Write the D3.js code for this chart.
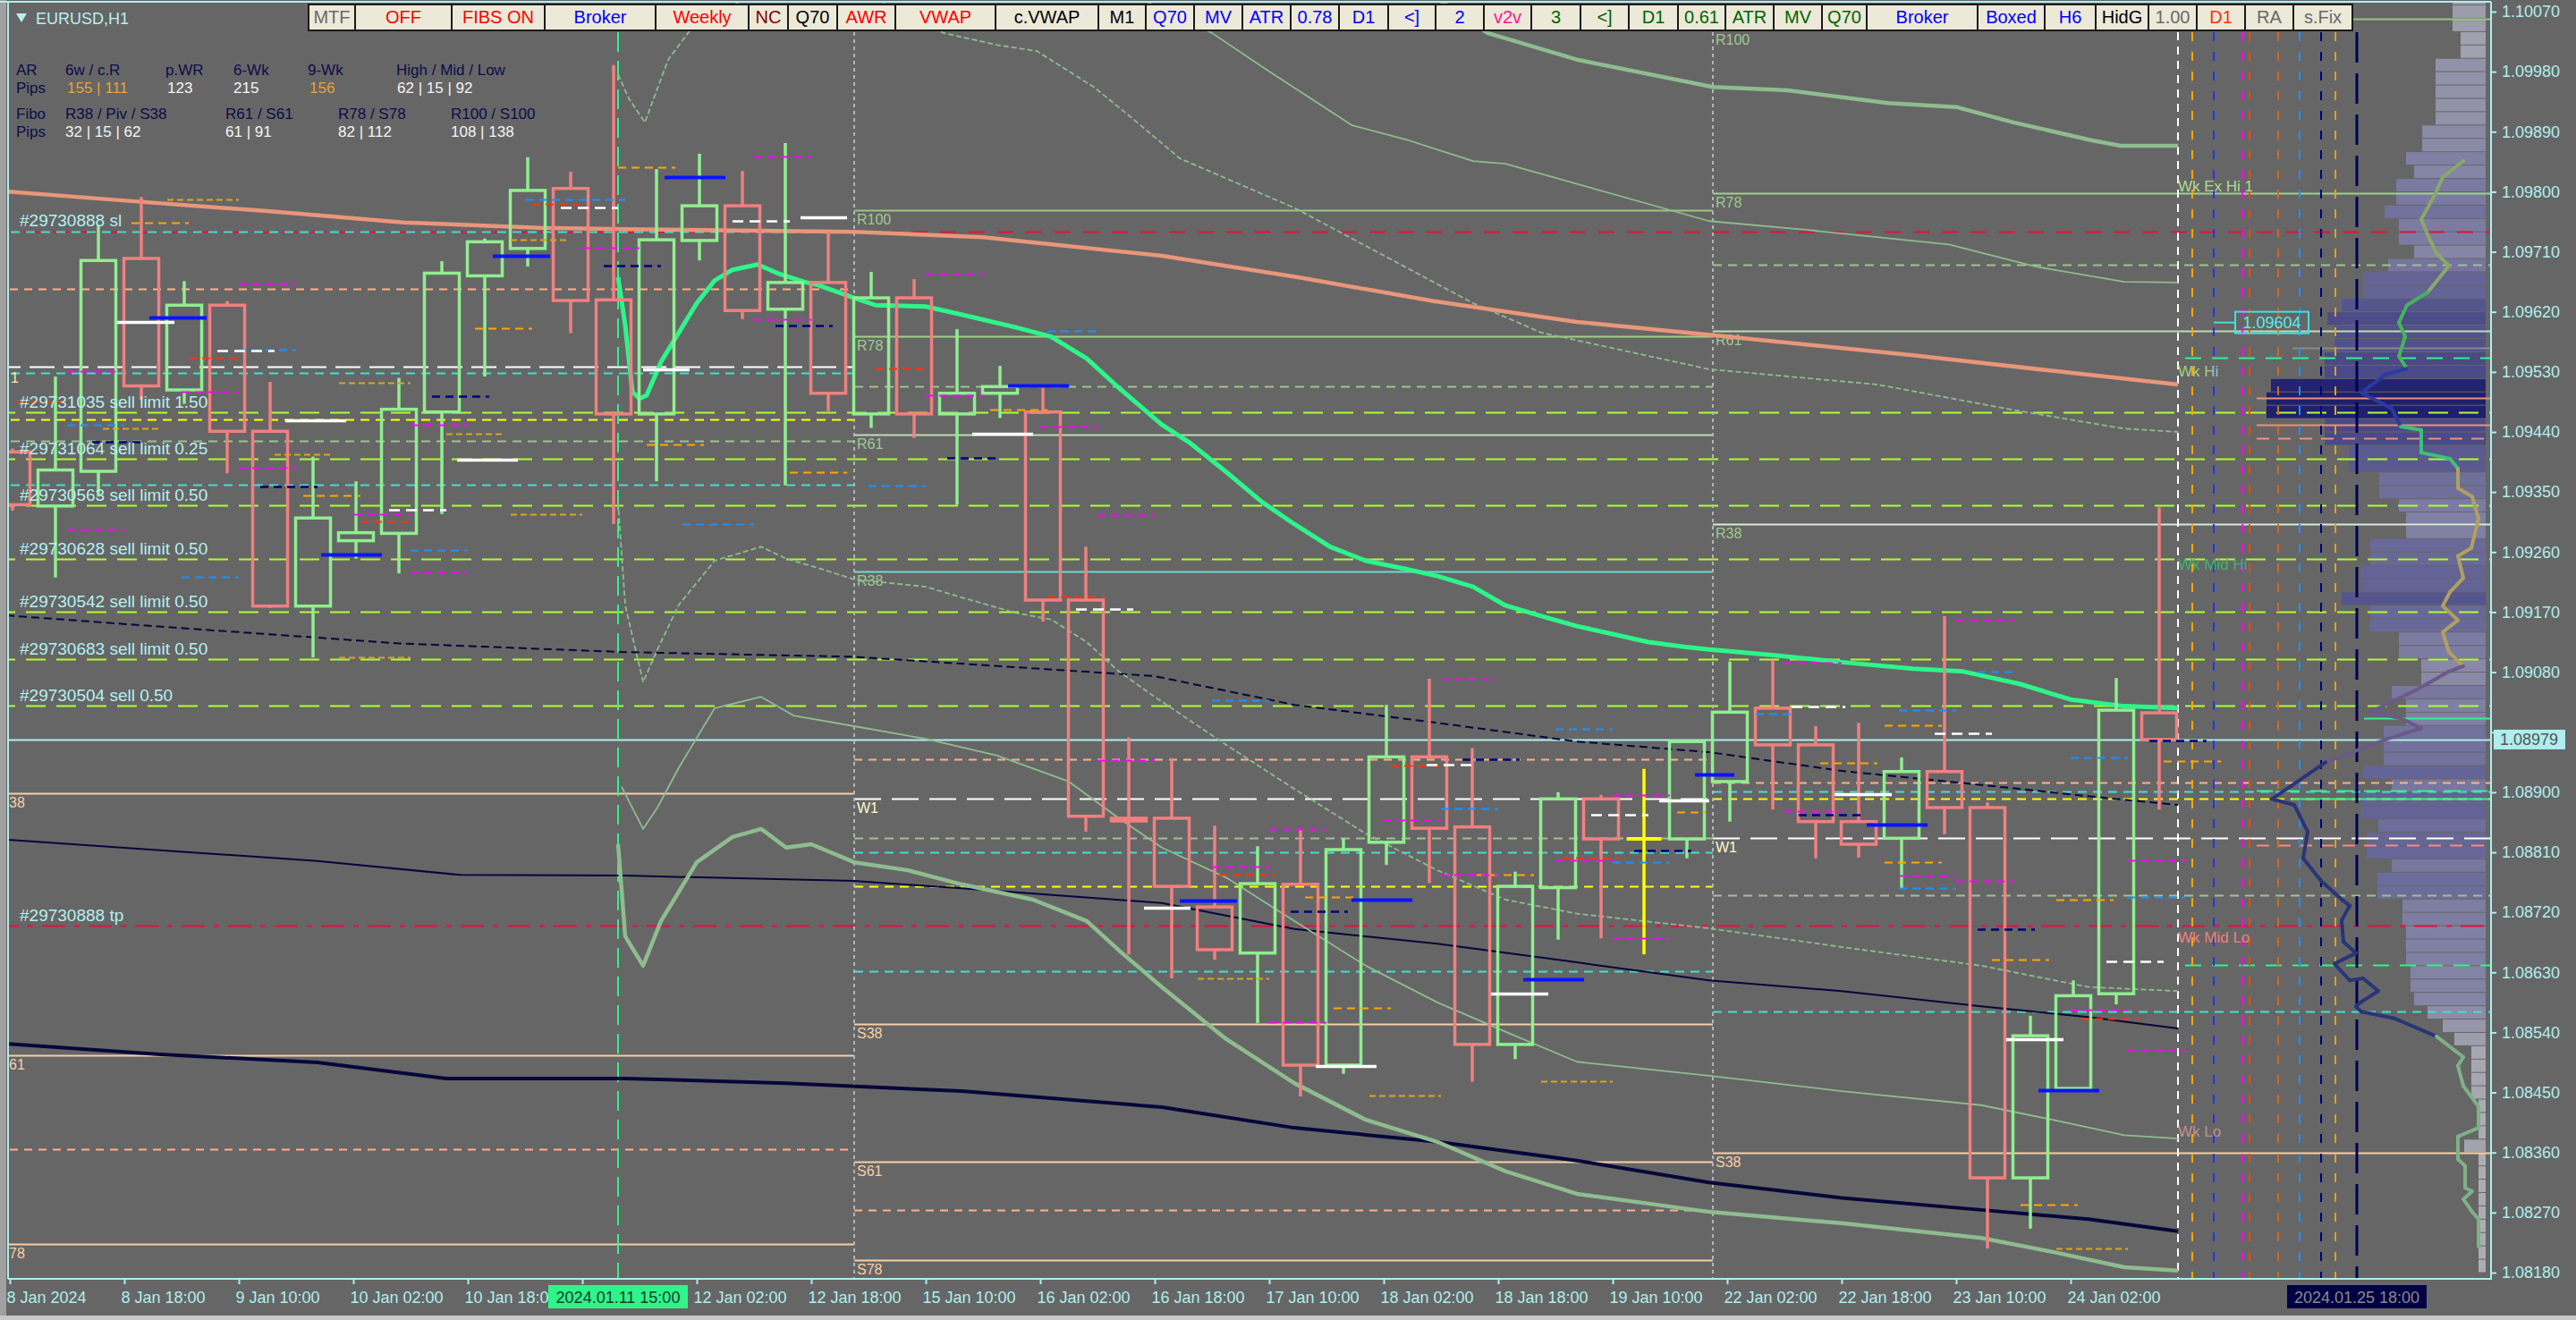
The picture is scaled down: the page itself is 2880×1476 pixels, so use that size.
<!DOCTYPE html>
<html><head><meta charset="utf-8">
<script src="https://cdn.jsdelivr.net/npm/d3@7/dist/d3.min.js"></script>
<style>html,body{margin:0;padding:0;background:#666;overflow:hidden}svg{display:block}text{font-family:"Liberation Sans",Arial,sans-serif}</style>
</head><body><svg id="c" width="2880" height="1476"></svg>
<script>
// ---------------- DATA ----------------
// H6 candles, index i starts at trading hour 6*i (hour 0 = 8 Jan 2024 00:00, weekends skipped)
const candleOpen  = [1.09410,1.09329,1.09381,1.09700,1.09503,1.09630,1.09441,1.09179,1.09277,1.09288,1.09470,1.09674,1.09715,1.09805,1.09638,1.09467,1.09727,1.09779,1.09624,1.09664,1.09467,1.09641,1.09467,1.09498,1.09470,1.09188,1.08861,1.08861,1.08728,1.08659,1.08762,1.08491,1.08825,1.08953,1.08848,1.08522,1.08757,1.08890,1.08830,1.08830,1.08916,1.09026,1.08971,1.08856,1.08831,1.08931,1.08877,1.08322,1.08456,1.08598,1.09019];
const candleHigh  = [1.09415,1.09523,1.09750,1.09792,1.09666,1.09636,1.09515,1.09403,1.09366,1.09521,1.09696,1.09730,1.09852,1.09830,1.09990,1.09834,1.09857,1.09831,1.09873,1.09740,1.09680,1.09669,1.09594,1.09539,1.09511,1.09268,1.08982,1.08951,1.08850,1.08819,1.08845,1.08831,1.09031,1.09070,1.08966,1.08781,1.08900,1.08896,1.08935,1.08978,1.09096,1.09098,1.08999,1.09004,1.08952,1.09164,1.08885,1.08565,1.08618,1.09071,1.09327];
const candleLow   = [1.09322,1.09222,1.09343,1.09488,1.09482,1.09378,1.09176,1.09102,1.09250,1.09228,1.09317,1.09523,1.09688,1.09588,1.09302,1.09366,1.09697,1.09609,1.09360,1.09471,1.09446,1.09431,1.09331,1.09461,1.09156,1.08841,1.08657,1.08621,1.08649,1.08554,1.08444,1.08478,1.08791,1.08764,1.08466,1.08500,1.08679,1.08681,1.08657,1.08801,1.08856,1.08874,1.08801,1.08802,1.08756,1.08837,1.08216,1.08246,1.08452,1.08582,1.08874];
const candleClose = [1.09331,1.09383,1.09697,1.09509,1.09630,1.09441,1.09179,1.09311,1.09289,1.09474,1.09678,1.09725,1.09802,1.09637,1.09467,1.09728,1.09779,1.09622,1.09664,1.09498,1.09641,1.09467,1.09498,1.09508,1.09188,1.08864,1.08857,1.08759,1.08664,1.08763,1.08491,1.08814,1.08953,1.08846,1.08522,1.08759,1.08890,1.08830,1.08830,1.08976,1.09020,1.08971,1.08856,1.08822,1.08931,1.08877,1.08322,1.08535,1.08595,1.09023,1.08979];

const priceTicks = [1.10070,1.09980,1.09890,1.09800,1.09710,1.09620,1.09530,1.09440,1.09350,1.09260,1.09170,1.09080,1.08990,1.08900,1.08810,1.08720,1.08630,1.08540,1.08450,1.08360,1.08270,1.08180];
const timeTicks = [2,18,34,50,66,82,98,114,130,146,162,178,194,210,226,242,258,274,290];
const timeLabels = ["8 Jan 2024","8 Jan 18:00","9 Jan 10:00","10 Jan 02:00","10 Jan 18:00","11 Jan 10:00","12 Jan 02:00","12 Jan 18:00","15 Jan 10:00","16 Jan 02:00","16 Jan 18:00","17 Jan 10:00","18 Jan 02:00","18 Jan 18:00","19 Jan 10:00","22 Jan 02:00","22 Jan 18:00","23 Jan 10:00","24 Jan 02:00"];
const END = 348.75;
const bidPrice = 1.08979;
const anchorTime = 87, anchorLabel = "2024.01.11 15:00";
const cursorTime = 330, cursorLabel = "2024.01.25 18:00";
const weekStarts = [120, 240];

// indicator lines: [trading hour, price]
const salmonMA = [[1,1.09801],[19,1.09786],[38,1.09771],[57,1.09754],[76,1.09746],[88,1.09744],[120,1.09740],[138,1.09732],[163,1.09704],[182,1.09672],[201,1.09636],[221,1.09605],[239,1.09586],[268,1.09555],[288,1.09531],[305,1.09511]];
const anchoredVWAP = [[87,1.09672],[88,1.09600],[89,1.09500],[90,1.09490],[91,1.09495],[93,1.09545],[95.5,1.09589],[98,1.09633],[100.5,1.09667],[103,1.09683],[106.5,1.09691],[109.5,1.09677],[113,1.09665],[115,1.09660],[120,1.09641],[123,1.09630],[130,1.09628],[135,1.09616],[142.5,1.09597],[147.5,1.09583],[152.5,1.09550],[157,1.09506],[163,1.09451],[167,1.09423],[172,1.09380],[177,1.09335],[181.5,1.09302],[186.5,1.09268],[191.5,1.09247],[196.5,1.09236],[201.5,1.09224],[206.5,1.09208],[211,1.09180],[216,1.09164],[221,1.09149],[226,1.09137],[231,1.09125],[236,1.09118],[239.5,1.09114],[248,1.09106],[258,1.09095],[268,1.09085],[275,1.09081],[283,1.09062],[290,1.09039],[297.5,1.09029],[305,1.09026]];
const bandU1 = [[87,1.09976],[88.5,1.09940],[90.75,1.09904],[94,1.09998],[97,1.10041],[113,1.10141],[132.5,1.10038],[140,1.10020],[145.5,1.10011],[153.5,1.09957],[159,1.09909],[165.5,1.09850],[181.5,1.09776],[206.5,1.09633],[216,1.09589],[239.5,1.09534],[263,1.09511],[282.5,1.09472],[297.5,1.09445],[305,1.09440]];
const bandU2 = [[150,1.10141],[170,1.10038],[177.5,1.09984],[189.5,1.09900],[197.5,1.09877],[206.5,1.09846],[211,1.09842],[239.5,1.09756],[253,1.09743],[273,1.09721],[285,1.09688],[297.5,1.09665],[305,1.09664]];
const bandU3 = [[200,1.10101],[208.5,1.10038],[221,1.09998],[240,1.09957],[250.5,1.09952],[264.5,1.09933],[274,1.09927],[282,1.09904],[293,1.09877],[297,1.09869],[305,1.09869]];
const bandL1 = [[87,1.09335],[88,1.09180],[90.5,1.09065],[92.5,1.09114],[95.5,1.09181],[100.5,1.09247],[107,1.09268],[110.5,1.09250],[115,1.09236],[120,1.09219],[130,1.09208],[135,1.09192],[142.5,1.09169],[147.5,1.09159],[152.5,1.09125],[157,1.09081],[162,1.09043],[172,1.08971],[181.5,1.08905],[191.5,1.08838],[201.5,1.08783],[211,1.08739],[221,1.08718],[239.5,1.08696],[258,1.08668],[277.5,1.08640],[292.5,1.08608],[305,1.08602]];
const bandL2 = [[87.5,1.08908],[90.5,1.08845],[92.5,1.08877],[95.5,1.08937],[100.5,1.09026],[107,1.09043],[111.5,1.09015],[120,1.08999],[130,1.08980],[140,1.08955],[150,1.08916],[157,1.08861],[163,1.08817],[172,1.08772],[181.5,1.08707],[191.5,1.08640],[201.5,1.08585],[211,1.08541],[221,1.08496],[239.5,1.08475],[258,1.08452],[277.5,1.08431],[287.5,1.08409],[297.5,1.08386],[305,1.08381]];
const bandL3 = [[87,1.08822],[88,1.08684],[90.5,1.08640],[93,1.08707],[98,1.08795],[103,1.08833],[107,1.08845],[110.5,1.08817],[114,1.08822],[120,1.08795],[127.5,1.08783],[135,1.08762],[145,1.08739],[152.5,1.08707],[157,1.08663],[163,1.08608],[172,1.08530],[181.5,1.08464],[191.5,1.08409],[201.5,1.08376],[211,1.08332],[221,1.08298],[239.5,1.08271],[258,1.08254],[277.5,1.08232],[287.5,1.08211],[297.5,1.08188],[305,1.08183]];
const navyDashed = [[1.5,1.09165],[26,1.09146],[56.5,1.09123],[88,1.09110],[120,1.09103],[162,1.09074],[181.5,1.09031],[201.5,1.09004],[221,1.08976],[239.5,1.08960],[258,1.08932],[277.5,1.08911],[292.5,1.08894],[305,1.08881]];
const navyThin = [[1.5,1.08829],[23,1.08813],[45,1.08797],[65,1.08776],[88,1.08775],[120,1.08767],[135,1.08756],[163,1.08734],[181.5,1.08695],[201.5,1.08673],[221,1.08645],[239.5,1.08618],[258,1.08602],[277.5,1.08579],[292.5,1.08563],[305,1.08546]];
const navyThick = [[1.5,1.08523],[23,1.08507],[45,1.08495],[63,1.08471],[88,1.08471],[110.5,1.08464],[135,1.08452],[163,1.08428],[181.5,1.08397],[201.5,1.08376],[221,1.08348],[239.5,1.08315],[258,1.08292],[277.5,1.08274],[292.5,1.08260],[305,1.08242]];

// pending orders
const orderPrices = [1.09470,1.09400,1.09330,1.09250,1.09170,1.09100,1.09030];
const orderLabels = ["#29731035 sell limit 1.50","#29731064 sell limit 0.25","#29730563 sell limit 0.50","#29730628 sell limit 0.50","#29730542 sell limit 0.50","#29730683 sell limit 0.50","#29730504 sell 0.50"];
const slPrice = 1.09740, slLabel = "#29730888 sl";
const tpPrice = 1.08700, tpLabel = "#29730888 tp";

// weekly fibo pivots per week section
const pivotNames = ["R100","R78","R61","R38","W1","S38","S61","S78"];
const pivotsWeek1 = [null,null,null,null,null,1.08899,1.08506,1.08223];
const pivotsWeek2 = [1.09772,1.09583,1.09436,1.09231,1.08890,1.08552,1.08346,1.08199];
const pivotsWeek3 = [1.10059,1.09798,1.09591,1.09302,1.08831,1.08359,null,null];
const sectionBounds = [[0,120],[120,240],[240,END]];

// other horizontal levels [from hour, to hour, price]
const levelsTurquoise = [[0,120,1.09740],[0,120,1.09528],[0,120,1.09361],[120,240,1.08810],[120,240,1.08632],[240,END,1.08901],[240,END,1.08571]];
const levelsPeach = [[0,120,1.09655],[0,120,1.08365],[120,240,1.08950],[120,240,1.08274],[240,END,1.08915]];
const levelsYellow = [[0,120,1.09459],[120,240,1.08759],[240,END,1.08890]];
const levelsSeaGreen = [[0,120,1.09427],[120,240,1.09508],[120,240,1.08832],[240,END,1.09691],[240,END,1.08745]];
const levelsWhite = [[0,120,1.09538]];
const levelsSpringDash = [[306,END,1.09551],[316,END,1.08902],[306,END,1.08641]];
const levelsSpringSolid = [[331,END,1.09011],[321,END,1.08890]];
const levelsSalmonSolid = [[316,END,1.09491],[316,END,1.09451]];
const levelsSalmonDash = [[316,END,1.09431],[316,END,1.08821]];
const levelsGray = [[321,END,1.09566]];
const markPrice = 1.09604;

// short level stubs [from hour, to hour, price]
const stubsWhiteThick = [[17,25,1.09605],[40.5,49,1.09457],[64.5,73,1.09398],[90.5,97,1.09534],[112.5,119,1.09762],[136.5,145,1.09437],[160.5,167,1.08727],[184.5,193,1.08490],[209,217,1.08598],[232.5,239.5,1.08888],[257,265,1.08897],[281,289,1.08530]];
const stubsWhite = [[31,39,1.09562],[55,63,1.09323],[79,87,1.09776],[103,111,1.09756],[151,159,1.09175],[200,207,1.08941],[223,231,1.08866],[251,258.5,1.09029],[271,279,1.08988],[295,303,1.08646]];
const stubsBlue = [[21.5,29.5,1.09611],[45.5,54,1.09256],[69.5,77.5,1.09704],[93.5,102,1.09822],[141.5,150,1.09510],[165.5,173.5,1.08738],[189.5,198,1.08739],[213.5,222,1.08620],[237.5,243,1.08927],[261.5,270,1.08852],[285.5,294,1.08453]];
const stubsMagenta = [[34,42,1.09663],[10,17.5,1.09531],[26,34,1.09500],[34,42,1.09386],[10,18,1.09294],[50,58,1.09317],[58,66,1.09229],[58,66,1.09451],[82,90,1.09716],[106,114,1.09853],[106,114,1.09609],[130,138,1.09677],[130,138,1.09495],[146,154,1.09448],[154,162,1.09315],[154,162,1.08948],[170,178,1.08789],[178,186,1.08845],[178,186,1.08555],[194,202,1.08858],[202,210,1.09070],[202,210,1.08776],[218,226,1.08798],[226,234,1.08896],[226,234,1.08681],[250,258,1.09094],[250,258,1.08872],[266,274,1.08775],[274,282,1.09159],[274,282,1.08767],[290,298,1.08574],[298,306,1.08798],[298,306,1.08514]];
const stubsDodger = [[34,42,1.09563],[10,18,1.09451],[26,34,1.09223],[58,66,1.09263],[74,88,1.09789],[96,106,1.09302],[122,130,1.09360],[147,154,1.09591],[170,178,1.09038],[202,210,1.08876],[218,226,1.08995],[226,234,1.08795],[246,251,1.09018],[266,274,1.09023],[266,274,1.08756],[277,282,1.09081],[290,298,1.08952],[298,306,1.08743]];
const stubsOrange = [[19,27,1.09754],[43,51,1.09345],[67,75,1.09596],[87,95,1.09837],[111,119,1.09380],[91,99,1.09421],[139,147,1.09473],[183,190.5,1.08743],[187,195,1.08577],[207,215,1.08776],[235,239,1.08870],[255,263,1.08944],[264,272,1.09001],[264,272,1.08795],[279,287,1.08649],[283,291,1.08282],[288,296,1.08739],[303,311,1.08947]];
const stubsGold = [[24,34,1.09789],[15,23,1.09445],[39,47,1.09407],[63,71,1.09437],[72,82,1.09317],[72,80,1.09728],[48,58,1.09514],[48,58,1.09102],[168,178,1.08621],[192,202,1.08446],[216,226,1.08467],[288,298,1.08216]];
const stubsNavy = [[13.5,21,1.09425],[37,45,1.09358],[61,69,1.09494],[85,93,1.09689],[109,117,1.09600],[133,140,1.09401],[181,189,1.08722],[205,213,1.08949],[229,237,1.08813],[252,261,1.08866],[277,285,1.08695],[301,309,1.08977]];
const stubsRed = [[27,34.5,1.09551],[3,10.5,1.09486],[51,58.5,1.09306],[75,82.5,1.09782],[123,130.5,1.09535],[147,155,1.09193],[171,179,1.08776],[195,202.5,1.08940],[219,227,1.08802],[291.5,299.5,1.08561]];

// vertical marker lines (trading hour)
const markerTimes = [305,307,310,314,315,319,322,325,327,330];

// volume profile: volume per 0.0002 bin from 1.08180 upward
const profileLow = 1.08180, profileStep = 0.0002;
const profileVolume = [8,8,8,8,8,8,8,8,8,24, 8,8,8,16,16,16,16,35,48,65, 80,84,84,89,89,89,93,93,121,121, 105,133,133,120,139,139,105,137,114,114, 114,89,89,105,72,72,97,97,129,129, 161,139,139,129,129,89,89,97,119,119, 153,153,180,180,245,245,240,180,180,169, 169,177,161,137,137,109,80,97,97,113, 100,100,80,89,71,71,56,56,56,56, 56,28,28,37,37,37];
// profile curve [price, volume]
const profileCurve = [[1.09846,25],[1.09822,48],[1.09795,57],[1.09759,72],[1.09730,63],[1.09708,55],[1.09689,41],[1.09649,65],[1.09630,88],[1.09604,97],[1.09583,90],[1.09553,97],[1.09535,88],[1.09526,112],[1.09499,139],[1.09475,105],[1.09448,95],[1.09443,72],[1.09409,72],[1.09400,40],[1.09385,31],[1.09356,31],[1.09343,15],[1.09310,8],[1.09266,16],[1.09254,31],[1.09221,25],[1.09200,40],[1.09179,48],[1.09158,31],[1.09140,48],[1.09110,41],[1.09089,25],[1.09081,41],[1.09053,78],[1.09020,129],[1.09011,95],[1.08996,72],[1.08979,112],[1.08945,179],[1.08908,219],[1.08890,239],[1.08881,214],[1.08841,199],[1.08801,204],[1.08767,184],[1.08737,159],[1.08730,152],[1.08708,161],[1.08676,159],[1.08659,145],[1.08643,169],[1.08618,152],[1.08621,137],[1.08602,120],[1.08585,140],[1.08579,145],[1.08571,139],[1.08561,102],[1.08534,55],[1.08503,25],[1.08490,31],[1.08460,25],[1.08429,8],[1.08397,8],[1.08384,31],[1.08350,31],[1.08340,23],[1.08307,23],[1.08302,15],[1.08290,25],[1.08271,15],[1.08260,8],[1.08219,8]];

// toolbar buttons
const buttonLabels = ["MTF","OFF","FIBS ON","Broker","Weekly","NC","Q70","AWR","VWAP","c.VWAP","M1","Q70","MV","ATR","0.78","D1","<]","2","v2v","3","<]","D1","0.61","ATR","MV","Q70","Broker","Boxed","H6","HidG","1.00","D1","RA","s.Fix"];

// ---------------- LAYOUT / STYLE ----------------
const buttonWidths = [52,108,104,124,104,44,55,65,112,115,53,54,54,54,54,55,53,54,53,55,54,55,53,54,54,50,124,75,57,59,54,54,54,66];
const buttonColors = ["#6a6a6a","#ff0000","#ff0000","#0000ff","#ff0000","#800000","#000000","#ff0000","#ff0000","#000000","#000000","#0000ff","#0000ff","#0000ff","#0000ff","#0000ff","#0000ff","#0000ff","#ff1493","#006400","#006400","#006400","#006400","#006400","#006400","#006400","#0000ff","#0000ff","#0000ff","#000000","#6a6a6a","#ff3300","#6a6a6a","#6a6a6a"];
const markerColors = ["#ffffff","#ffa500","#2233ff","#ff00ff","#ff4500","#d2691e","#1e90ff","#000080","#e0a020","#000050"];
const BG = "#666666", AXIS = "#aeeeee";
const PL = 9, PR = 2785, PT = 3, PB = 1430, TOOLBAR_BOTTOM = 35;

const x = d3.scaleLinear().domain([0, END]).range([-5, PR]);
const y = d3.scaleLinear().domain([1.08180, 1.10070]).range([1423, 13]);
const vx = d3.scaleLinear().domain([0, 250]).range([2779, 2529]);

const svg = d3.select("#c");
svg.append("rect").attr("width",2880).attr("height",1476).attr("fill",BG);
svg.append("rect").attr("x",0).attr("y",0).attr("width",7).attr("height",1476).attr("fill","#a0a0a0");
svg.append("rect").attr("x",0).attr("y",1471).attr("width",2880).attr("height",5).attr("fill","#c8c8c8");
svg.append("defs").append("clipPath").attr("id","plot").append("rect")
  .attr("x",PL).attr("y",PT).attr("width",PR-PL).attr("height",PB-PT);
const g = svg.append("g").attr("clip-path","url(#plot)");

// volume profile
const profColor = d3.scaleLinear().domain([0,100,180,250]).range(["#b0b0b4","#7a7aa2","#4a4a88","#1c1c6c"]);
g.append("g").selectAll("rect").data(profileVolume).join("rect")
  .attr("x", d => vx(d)).attr("width", d => vx(0) - vx(d))
  .attr("y", (d,i) => y(profileLow + profileStep*(i+1)) + 0.5)
  .attr("height", (d,i) => y(profileLow + profileStep*i) - y(profileLow + profileStep*(i+1)) - 1)
  .attr("fill", d => profColor(d));

function segs(arr, color, w, dash) {
  g.append("g").selectAll("line").data(arr).join("line")
    .attr("x1", d => x(d[0])).attr("x2", d => x(d[1]))
    .attr("y1", d => Math.round(y(d[2]))+0.5).attr("y2", d => Math.round(y(d[2]))+0.5)
    .attr("stroke", color).attr("stroke-width", w).attr("stroke-dasharray", dash || null);
}
// full width order lines
segs(orderPrices.map(p => [0, END, p]), "#adff2f", 2, "22,12");
segs([[0, END, slPrice]], "#dc143c", 2, "18,14");
segs([[0, END, tpPrice]], "#dc143c", 2, "26,10,6,10");
segs(levelsTurquoise, "#40e0d0", 2, "10,7");
segs(levelsPeach, "#ffb08a", 2, "9,7");
segs(levelsYellow, "#ffff00", 2, "10,7");
segs(levelsSeaGreen, "#9cc48c", 2, "10,7");
segs(levelsWhite, "#ffffff", 2, "28,10");
segs(levelsSpringDash, "#2ef58a", 2, "18,12");
segs(levelsSpringSolid, "#2ef58a", 2);
segs(levelsSalmonSolid, "#f0907a", 2);
segs(levelsSalmonDash, "#f0907a", 2, "14,10");
segs(levelsGray, "#8a8a8a", 2);

// weekly pivots
const pivotColor = {R100:"#98c878",R78:"#a0d088",R61:"#c0dcb0",R38:"#70d8d0",W1:"#ffffff",S38:"#f6cfa6",S61:"#f6cfa6",S78:"#f6cfa6"};
const pivotLabelColor = {R100:"#a0c890",R78:"#a0c890",R61:"#a0c890",R38:"#a0c890",W1:"#fff8d0",S38:"#f6cfa6",S61:"#f6cfa6",S78:"#f6cfa6"};
[pivotsWeek1,pivotsWeek2,pivotsWeek3].forEach((arr, si) => {
  const [t0, t1] = sectionBounds[si];
  arr.forEach((p, k) => {
    if (p === null) return;
    const nm = pivotNames[k];
    const yy = Math.round(y(p)) + 0.5;
    const c = (si === 2 && nm === "R38") ? "#d6ead6" : pivotColor[nm];
    g.append("line").attr("x1", x(t0)).attr("x2", x(t1)).attr("y1", yy).attr("y2", yy)
      .attr("stroke", c).attr("stroke-width", 2).attr("stroke-dasharray", nm === "W1" ? "30,12" : null);
    // the first week's labels start left of the plot; only their digits are visible
    const lab = si === 0 ? nm.slice(1) : nm;
    const lx = si === 0 ? PL + 1 : x(t0) + 3;
    const ly = Math.max(yy + 15, TOOLBAR_BOTTOM + 15);
    g.append("text").attr("x", lx).attr("y", ly).text(lab)
      .attr("fill", pivotLabelColor[nm]).attr("font-size", 16);
  });
});

// bid line
g.append("line").attr("x1",PL).attr("x2",PR).attr("y1",Math.round(y(bidPrice))+0.5).attr("y2",Math.round(y(bidPrice))+0.5)
  .attr("stroke",AXIS).attr("stroke-width",2);

// vertical lines
g.append("line").attr("x1",x(anchorTime)).attr("x2",x(anchorTime)).attr("y1",36).attr("y2",PB)
  .attr("stroke","#2ef58a").attr("stroke-width",2).attr("stroke-dasharray","22,10");
g.append("g").selectAll("line").data(weekStarts).join("line")
  .attr("x1",d=>x(d)).attr("x2",d=>x(d)).attr("y1",36).attr("y2",PB)
  .attr("stroke","#b4b4b4").attr("stroke-width",2).attr("stroke-dasharray","4,4");
g.append("g").selectAll("line").data(markerTimes).join("line")
  .attr("x1",d=>x(d)).attr("x2",d=>x(d)).attr("y1",36).attr("y2",PB)
  .attr("stroke",(d,i)=>markerColors[i]).attr("stroke-width",(d,i)=> i===9 ? 3 : 2)
  .attr("stroke-dasharray",(d,i)=> i===9 ? "34,12" : (i===0 ? "9,7" : "10,12"));

// indicator curves
const lg = d3.line().x(d => x(d[0])).y(d => y(d[1]));
function curve(data, color, w, dash) {
  g.append("path").datum(data).attr("d", lg).attr("fill","none").attr("stroke",color)
    .attr("stroke-width",w).attr("stroke-dasharray",dash||null).attr("stroke-linejoin","round");
}
curve(navyDashed, "#06063a", 2, "9,5");
curve(navyThin, "#06063a", 2);
curve(navyThick, "#06063a", 4);
curve(bandU1, "#8fbc8f", 1.8, "6,3");
curve(bandU2, "#8fbc8f", 1.8);
curve(bandU3, "#8fbc8f", 4.5);
curve(bandL1, "#8fbc8f", 1.8, "6,3");
curve(bandL2, "#8fbc8f", 1.8);
curve(bandL3, "#8fbc8f", 4.5);
curve(salmonMA, "#e9967a", 4.5);
curve(anchoredVWAP, "#2ef58a", 5);

// profile curve coloured by zone
function pcColor(p) {
  if (p > 1.09660) return "#8aa868";
  if (p > 1.09540) return "#46b45c";
  if (p > 1.09450) return "#2a3aa0";
  if (p > 1.09390) return "#3cc07a";
  if (p > 1.09095) return "#b0a060";
  if (p > 1.08960) return "#6a5a8a";
  if (p > 1.08540) return "#2a3478";
  return "#80b088";
}
g.append("g").selectAll("line").data(profileCurve.slice(1)).join("line")
  .attr("x1",(d,i)=>vx(profileCurve[i][1])).attr("y1",(d,i)=>y(profileCurve[i][0]))
  .attr("x2",d=>vx(d[1])).attr("y2",d=>y(d[0]))
  .attr("stroke",(d,i)=>pcColor(profileCurve[i][0])).attr("stroke-width",4).attr("stroke-linecap","round");

// candles
const candles = candleOpen.map((o,i)=>({i, o, h:candleHigh[i], l:candleLow[i], c:candleClose[i], t:i*6}));
const colOf = d => d.c > d.o ? "#90ee90" : (d.c < d.o ? "#f08080" : "#ffff00");
const cg = g.append("g");
candles.forEach(d => {
  const x0 = x(d.t - 0.25) + 1.5, x1 = x(d.t + 5) - 1.5, xc = (x0 + x1) / 2;
  const top = y(Math.max(d.o, d.c)), bot = y(Math.min(d.o, d.c));
  const col = colOf(d);
  cg.append("line").attr("x1",xc).attr("x2",xc).attr("y1",y(d.h)).attr("y2",top).attr("stroke",col).attr("stroke-width",3.5);
  cg.append("line").attr("x1",xc).attr("x2",xc).attr("y1",bot).attr("y2",y(d.l)).attr("stroke",col).attr("stroke-width",3.5);
  if (d.c === d.o) {
    cg.append("line").attr("x1",x0).attr("x2",x1).attr("y1",top).attr("y2",top).attr("stroke",col).attr("stroke-width",4);
  } else {
    cg.append("rect").attr("x",x0).attr("y",top).attr("width",x1-x0).attr("height",Math.max(bot-top,2))
      .attr("fill","none").attr("stroke",col).attr("stroke-width",3.5);
  }
});

// stubs
segs(stubsGold, "#daa520", 2, "7,4");
segs(stubsOrange, "#ffa500", 2, "9,6");
segs(stubsDodger, "#1e90ff", 2, "9,6");
segs(stubsMagenta, "#ff00ff", 2, "9,6");
segs(stubsRed, "#ff3010", 2, "9,6");
segs(stubsNavy, "#000080", 2.5, "9,6");
segs(stubsWhite, "#ffffff", 2.5, "12,7");
segs(stubsWhiteThick, "#ffffff", 3.5);
segs(stubsBlue, "#0a14ff", 4);

// order labels
const tg = g.append("g").attr("font-size",19).attr("fill","#b4f0f0");
orderPrices.forEach((p,k) => tg.append("text").attr("x",22).attr("y",y(p)-5).text(orderLabels[k]));
tg.append("text").attr("x",22).attr("y",y(slPrice)-6).text(slLabel);
tg.append("text").attr("x",22).attr("y",y(tpPrice)-5).text(tpLabel);
g.append("text").attr("x",12).attr("y",428).text("1").attr("fill","#ffe8a0").attr("font-size",16);

// right side weekly labels
const wk = [["Wk Ex Hi 1",214,"#b0dc90"],["Wk Hi",421,"#a0d080"],["Wk Mid Hi",637,"#3cb371"],["Wk Mid Lo",1054,"#f07f7f"],["Wk Lo",1271,"#c09090"]];
wk.forEach(w => g.append("text").attr("x",x(305)).attr("y",w[1]).text(w[0]).attr("fill",w[2]).attr("font-size",17));

// 1.09604 mark
const ym = y(markPrice);
g.append("line").attr("x1",x(310)).attr("x2",x(313)).attr("y1",ym).attr("y2",ym).attr("stroke","#40e0e0").attr("stroke-width",2);
g.append("rect").attr("x",x(313)).attr("y",ym-12).attr("width",82).attr("height",24).attr("fill","none").attr("stroke","#40e0e0").attr("stroke-width",2);
g.append("text").attr("x",x(313)+41).attr("y",ym+6.5).attr("text-anchor","middle").text(markPrice.toFixed(5)).attr("fill","#50f0f0").attr("font-size",18);

// frame
svg.append("line").attr("x1",0).attr("x2",PR).attr("y1",2).attr("y2",2).attr("stroke",AXIS).attr("stroke-width",2);
svg.append("line").attr("x1",PL).attr("x2",PL).attr("y1",2).attr("y2",PB).attr("stroke",AXIS).attr("stroke-width",2);

// price axis (the label under the bid box is hidden, as on the terminal)
const ya = svg.append("g").attr("transform",`translate(${PR},0)`)
  .call(d3.axisRight(y).tickValues(priceTicks)
    .tickFormat(d => Math.abs(y(d) - y(bidPrice)) < 22 ? "" : d3.format(".5f")(d)).tickSize(6).tickPadding(6));
ya.select(".domain").remove();
ya.selectAll("line").attr("stroke",AXIS).attr("stroke-width",2);
ya.selectAll("text").attr("fill",AXIS).attr("font-size",18).attr("font-family","Liberation Sans, Arial, sans-serif");
svg.append("line").attr("x1",PR).attr("x2",PR).attr("y1",2).attr("y2",PB+1).attr("stroke",AXIS).attr("stroke-width",2);
// bid box
svg.append("rect").attr("x",PR+3).attr("y",y(bidPrice)-11).attr("width",80).attr("height",22).attr("fill",AXIS);
svg.append("text").attr("x",PR+10).attr("y",y(bidPrice)+6.5).text(bidPrice.toFixed(5)).attr("fill","#555").attr("font-size",18);

// time axis (the label covered by the anchor box is hidden)
const xa = svg.append("g").attr("transform",`translate(0,${PB})`)
  .call(d3.axisBottom(x).tickValues(timeTicks)
    .tickFormat((d,i) => Math.abs(x(d) + 60 - x(anchorTime)) < 50 ? "" : timeLabels[i]).tickSize(6).tickPadding(8));
xa.select(".domain").remove();
xa.selectAll("line").attr("stroke",AXIS).attr("stroke-width",2);
xa.selectAll("text").attr("fill",AXIS).attr("font-size",18).attr("text-anchor","start").attr("dx",-4)
  .attr("font-family","Liberation Sans, Arial, sans-serif");
svg.append("line").attr("x1",PL).attr("x2",PR).attr("y1",PB).attr("y2",PB).attr("stroke",AXIS).attr("stroke-width",2);
// time boxes
svg.append("rect").attr("x",x(anchorTime)-78).attr("y",1437).attr("width",156).attr("height",26).attr("fill","#2ef58a");
svg.append("text").attr("x",x(anchorTime)).attr("y",1457).attr("text-anchor","middle").text(anchorLabel).attr("fill","#1a3a2a").attr("font-size",18);
svg.append("rect").attr("x",x(cursorTime)-78).attr("y",1437).attr("width",156).attr("height",26).attr("fill","#000044");
svg.append("text").attr("x",x(cursorTime)).attr("y",1457).attr("text-anchor","middle").text(cursorLabel).attr("fill","#8a8a8a").attr("font-size",18);

// title
svg.append("path").attr("d","M18,15 L30,15 L24,25 Z").attr("fill","#b4f0f0");
svg.append("text").attr("x",40).attr("y",27).text("EURUSD,H1").attr("fill","#b4f0f0").attr("font-size",18);

// info panel
const NAV = "#0c0c4a", WH = "#f4f4f4", OR = "#e8a33a";
const info = [
  ["AR",18,84,NAV],["6w / c.R",73,84,NAV],["p.WR",185,84,NAV],["6-Wk",261,84,NAV],["9-Wk",344,84,NAV],["High / Mid / Low",443,84,NAV],
  ["Pips",18,104,NAV],["155 | 111",75,104,OR],["123",187,104,WH],["215",261,104,WH],["156",346,104,OR],["62 | 15 | 92",444,104,WH],
  ["Fibo",18,133,NAV],["R38 / Piv / S38",73,133,NAV],["R61 / S61",252,133,NAV],["R78 / S78",378,133,NAV],["R100 / S100",504,133,NAV],
  ["Pips",18,153,NAV],["32 | 15 | 62",73,153,WH],["61 | 91",252,153,WH],["82 | 112",378,153,WH],["108 | 138",504,153,WH]];
info.forEach(r => svg.append("text").attr("x",r[1]).attr("y",r[2]).text(r[0]).attr("fill",r[3]).attr("font-size",17));

// toolbar
let bx = 345;
const bg = svg.append("g");
buttonLabels.forEach((lab,i) => {
  const w = buttonWidths[i];
  bg.append("rect").attr("x",bx).attr("y",5).attr("width",w).attr("height",29).attr("fill","#ece9d8").attr("stroke","#1a1a1a").attr("stroke-width",2);
  bg.append("text").attr("x",bx+w/2).attr("y",26).attr("text-anchor","middle").text(lab).attr("fill",buttonColors[i]).attr("font-size",20);
  bx += w;
});
</script></body></html>
